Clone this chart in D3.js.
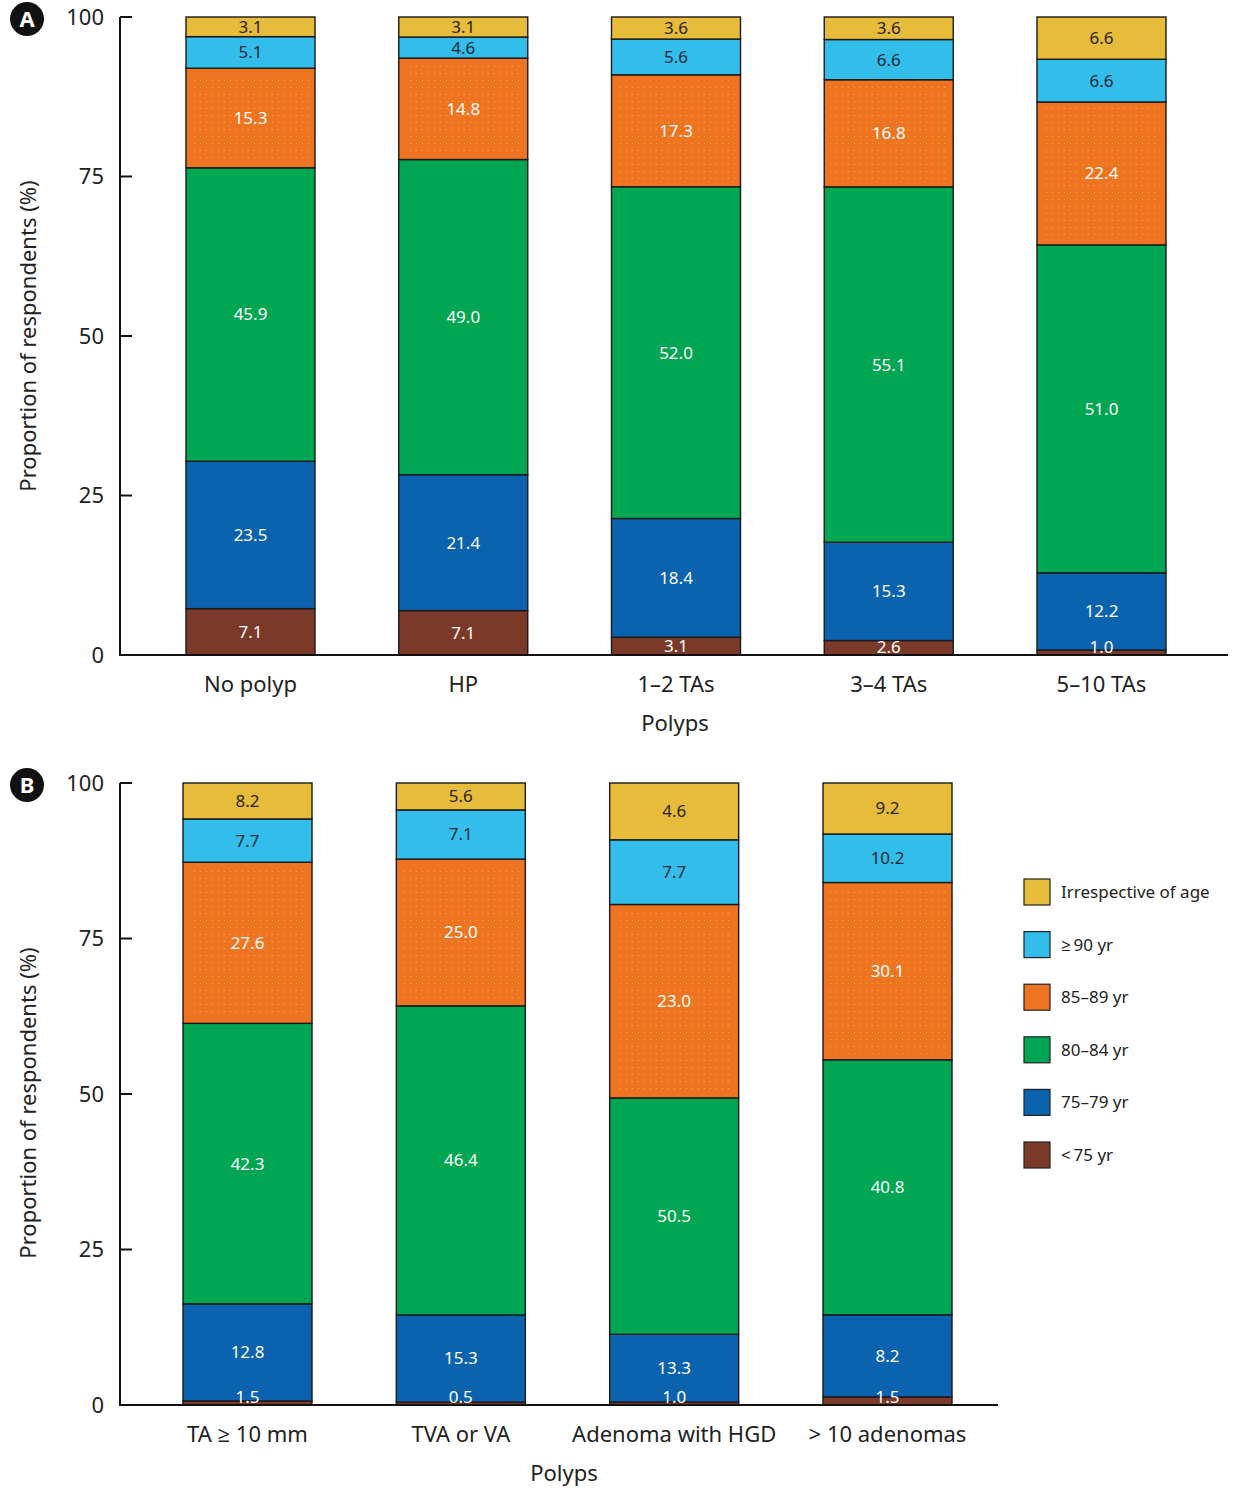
<!DOCTYPE html>
<html><head><meta charset="utf-8">
<script src="https://cdn.jsdelivr.net/npm/d3@7"></script>
<style>
body{margin:0;background:#fff;}
svg{display:block;font-family:"Noto Sans","Open Sans",sans-serif;}
</style></head><body>
<svg id="chart" width="1238" height="1494"></svg>
<script>
const seriesNames = ["<75 yr","75–79 yr","80–84 yr","85–89 yr","≥90 yr","Irrespective of age"];
const legendLabels = ["Irrespective of age","≥\u200990 yr","85–89 yr","80–84 yr","75–79 yr","<\u200975 yr"];
const legendOrder = [5,4,3,2,1,0];
const colors = ["#7B3A29","#0B63AF","#00A651","#EF7422","#33BDEA","#E6BC3A"];
const textColors = ["#fff","#fff","#fff","#fff","#1c2a38","#2a2418"];

// ---- Panel A ----
const catsA = ["No polyp","HP","1–2 TAs","3–4 TAs","5–10 TAs"];
// printed labels
const lblLt75A   = [7.1, 7.1, 3.1, 2.6, 1.0];
const lbl75_79A  = [23.5, 21.4, 18.4, 15.3, 12.2];
const lbl80_84A  = [45.9, 49.0, 52.0, 55.1, 51.0];
const lbl85_89A  = [15.3, 14.8, 17.3, 16.8, 22.4];
const lblGe90A   = [5.1, 4.6, 5.6, 6.6, 6.6];
const lblIrrA    = [3.1, 3.1, 3.6, 3.6, 6.6];
// segment heights as drawn in the figure
const hLt75A   = [7.27, 6.96, 2.79, 2.27, 0.78];
const h75_79A  = [23.1, 21.3, 18.6, 15.4, 12.1];
const h80_84A  = [46.0, 49.4, 52.0, 55.7, 51.4];
const h85_89A  = [15.6, 15.9, 17.55, 16.8, 22.4];
const hGe90A   = [4.95, 3.3, 5.6, 6.3, 6.7];
const hIrrA    = [3.08, 3.14, 3.46, 3.53, 6.62];

// ---- Panel B ----
const catsB = ["TA ≥ 10 mm","TVA or VA","Adenoma with HGD","> 10 adenomas"];
const lblLt75B   = [1.5, 0.5, 1.0, 1.5];
const lbl75_79B  = [12.8, 15.3, 13.3, 8.2];
const lbl80_84B  = [42.3, 46.4, 50.5, 40.8];
const lbl85_89B  = [27.6, 25.0, 23.0, 30.1];
const lblGe90B   = [7.7, 7.1, 7.7, 10.2];
const lblIrrB    = [8.2, 5.6, 4.6, 9.2];
const hLt75B   = [0.66, 0.47, 0.47, 1.3];
const h75_79B  = [15.6, 14.0, 10.9, 13.2];
const h80_84B  = [45.1, 49.7, 38.0, 41.0];
const h85_89B  = [25.9, 23.6, 31.1, 28.5];
const hGe90B   = [6.96, 7.9, 10.4, 7.8];
const hIrrB    = [5.78, 4.33, 9.13, 8.2];

const yTicks = [0, 25, 50, 75, 100];

const svg = d3.select("#chart");
const defs = svg.append("defs");
const pat = defs.append("pattern").attr("id","dots").attr("patternUnits","userSpaceOnUse")
  .attr("width",6).attr("height",7);
pat.append("rect").attr("x",2).attr("y",3).attr("width",1).attr("height",1).attr("fill","#f2d21a").attr("opacity",0.75);

function panel(cfg){
  const g = svg.append("g");
  const y = d3.scaleLinear().domain([0,100]).range([cfg.y0, cfg.y1]);
  const x = d3.scalePoint().domain(cfg.cats).range(cfg.xr);
  const bw = 129;
  const rows = cfg.cats.map((c,i)=>{ const o={cat:c,i:i}; cfg.h.forEach((s,k)=>o["k"+k]=s[i]); return o;});
  const stack = d3.stack().keys(cfg.h.map((s,k)=>"k"+k))(rows);
  stack.forEach((layer,k)=>{
    layer.forEach(d=>{
      const cx = x(d.data.cat);
      const top = y(d[1]), hgt = y(d[0])-y(d[1]);
      g.append("rect").attr("x",cx-bw/2).attr("width",bw)
        .attr("y",top).attr("height",hgt)
        .attr("fill",colors[k]).attr("stroke","#1a1a1a").attr("stroke-width",1.4);
      if(k===3 && hgt>14){
        g.append("rect").attr("x",cx-bw/2+6).attr("width",bw-12)
          .attr("y",top+6).attr("height",hgt-12).attr("fill","url(#dots)");
      }
    });
  });
  stack.forEach((layer,k)=>{
    layer.forEach(d=>{
      const cx = x(d.data.cat);
      let cy = (y(d[0])+y(d[1]))/2;
      cy = Math.min(cy, cfg.y0-8);
      g.append("text").attr("x",cx).attr("y",cy).attr("dy","0.35em")
        .attr("text-anchor","middle").attr("font-size",17)
        .attr("fill",textColors[k]).text(cfg.lbl[k][d.data.i].toFixed(1));
    });
  });
  // y axis
  g.append("line").attr("x1",120).attr("x2",120).attr("y1",cfg.y1).attr("y2",cfg.y0).attr("stroke","#111").attr("stroke-width",2);
  yTicks.forEach(t=>{
    g.append("line").attr("x1",120).attr("x2",132).attr("y1",y(t)).attr("y2",y(t)).attr("stroke","#111").attr("stroke-width",2);
    g.append("text").attr("x",104).attr("y",y(t)).attr("dy","0.35em").attr("text-anchor","end")
      .attr("font-size",22).attr("fill","#222").text(t);
  });
  // x axis
  g.append("line").attr("x1",119).attr("x2",cfg.xEnd).attr("y1",cfg.y0).attr("y2",cfg.y0).attr("stroke","#111").attr("stroke-width",2);
  cfg.cats.forEach(c=>{
    g.append("text").attr("x",x(c)).attr("y",cfg.y0+29).attr("dy","0.35em").attr("text-anchor","middle")
      .attr("font-size",22).attr("fill","#222").text(c);
  });
  g.append("text").attr("x",cfg.xTitleX).attr("y",cfg.y0+68).attr("dy","0.35em").attr("text-anchor","middle")
    .attr("font-size",22).attr("fill","#222").text("Polyps");
  g.append("text").attr("transform",`translate(28,${cfg.yTitleY}) rotate(-90)`).attr("dy","0.35em")
    .attr("text-anchor","middle").attr("font-size",22).attr("fill","#222").text("Proportion of respondents (%)");
  // badge
  g.append("circle").attr("cx",27).attr("cy",cfg.y1+2).attr("r",17).attr("fill","#111");
  g.append("text").attr("x",27).attr("y",cfg.y1+2).attr("dy","0.36em").attr("text-anchor","middle")
    .attr("font-size",22).attr("font-weight","bold").attr("fill","#fff").text(cfg.letter);
}

panel({cats:catsA,
  h:[hLt75A,h75_79A,h80_84A,h85_89A,hGe90A,hIrrA],
  lbl:[lblLt75A,lbl75_79A,lbl80_84A,lbl85_89A,lblGe90A,lblIrrA],
  y0:655,y1:17,xr:[250.5,1101.5],xEnd:1228,xTitleX:675,yTitleY:336,letter:"A"});
panel({cats:catsB,
  h:[hLt75B,h75_79B,h80_84B,h85_89B,hGe90B,hIrrB],
  lbl:[lblLt75B,lbl75_79B,lbl80_84B,lbl85_89B,lblGe90B,lblIrrB],
  y0:1405,y1:783,xr:[247.5,887.5],xEnd:998,xTitleX:564,yTitleY:1103,letter:"B"});

// legend
const lg = svg.append("g");
legendLabels.forEach((l,i)=>{
  const k = legendOrder[i];
  const cy = 892 + i*52.6;
  lg.append("rect").attr("x",1024).attr("y",cy-13).attr("width",26).attr("height",26)
    .attr("fill",colors[k]).attr("stroke","#222").attr("stroke-width",1.2);
  lg.append("text").attr("x",1061).attr("y",cy).attr("dy","0.35em").attr("font-size",17)
    .attr("fill","#222").text(l);
});
</script></body></html>
